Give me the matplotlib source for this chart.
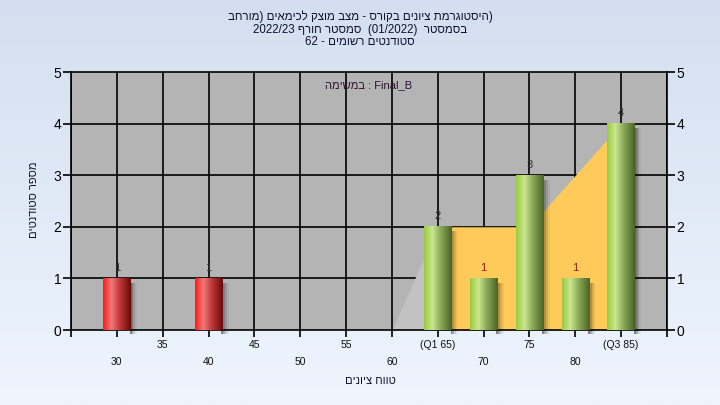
import re
import numpy as np
import matplotlib
matplotlib.use("Agg")
import matplotlib.pyplot as plt
from matplotlib.colors import LinearSegmentedColormap

plt.rcParams['font.family'] = ['Liberation Sans Narrow', 'Liberation Sans', 'DejaVu Sans']

# ---- data ----
grade_labels = ["30", "35", "40", "45", "50", "55", "60",
                "(Q1 65)", "70", "75", "80", "(Q3 85)"]
counts = [1, 0, 1, 0, 0, 0, 0, 2, 1, 3, 1, 4]
bar_group = ["low", "", "low", "", "", "", "", "ok", "ok", "ok", "ok", "ok"]
quartile_area = [0, 0, 0, 0, 0, 0, 0, 2, 2, 2, 3, 4]

title_lines = [
    "(היסטוגרמת ציונים בקורס - מצב מוצק לכימאים (מורחב",
    "בסמסטר  (01/2022)  סמסטר חורף 2022/23",
    "סטודנטים רשומים - 62",
]
task_label = "במשימה"
task_name = "Final_B"
y_title = "מספר סטודנטים"
x_title = "טווח ציונים"

MIRROR = {"(": ")", ")": "("}


def rtl(s):
    # very small bidi: rtl paragraph, ltr runs kept as they are
    runs = re.split(r'([A-Za-z0-9_/.]+)', s)
    out = []
    for r in runs:
        if r and re.fullmatch(r'[A-Za-z0-9_/.]+', r):
            out.append(r)
        else:
            out.append("".join(MIRROR.get(c, c) for c in r[::-1]))
    return "".join(out[::-1])


def heb_word(s):
    return s[::-1]


fig = plt.figure(figsize=(7.2, 4.05), dpi=100)

# background gradient
bg = fig.add_axes([0, 0, 1, 1], zorder=-10)
grad = np.linspace(0, 1, 256).reshape(-1, 1)
bg_cmap = LinearSegmentedColormap.from_list("bg", ["#d3dff0", "#eef5fd"])
bg.imshow(grad, aspect="auto", cmap=bg_cmap, extent=[0, 1, 0, 1])
bg.set_axis_off()

ax = fig.add_axes([71 / 720, 75 / 405, 596 / 720, 258 / 405])
ax.set_facecolor("#b4b4b4")

x = np.arange(len(counts))

# gridlines
for i in range(-1, 13):
    ax.axvline(i, color="black", lw=1.2, zorder=1)
for j in range(1, 5):
    ax.axhline(j, color="black", lw=1.2, zorder=1)

# quartile area
ax.fill_between(x[6:8], [quartile_area[6], quartile_area[7]], color="#c2c2c2", lw=0, zorder=2)
ax.fill_between(x[7:], quartile_area[7:], color="#fecb5a", lw=0, zorder=2)

red_cmap = LinearSegmentedColormap.from_list(
    "red", [(0, "#ff1a1a"), (0.3, "#f07a7a"), (0.6, "#c03838"), (1, "#6a0a0a")])
green_cmap = LinearSegmentedColormap.from_list(
    "green", [(0, "#98cc40"), (0.3, "#cbe690"), (0.6, "#8aa858"), (1, "#4a6426")])

w = 0.6
hgrad = np.linspace(0, 1, 64).reshape(1, -1)
for xi, c, g in zip(x, counts, bar_group):
    if c == 0:
        continue
    # shadow
    for k, a in enumerate([0.24, 0.17, 0.1, 0.05]):
        off = 0.04 + 0.04 * k
        ax.add_patch(plt.Rectangle((xi + w / 2 - 0.02, -0.07), off, c - 0.02,
                                   color="black", alpha=a, lw=0, zorder=3, clip_on=False))
    cmap = red_cmap if g == "low" else green_cmap
    ax.imshow(hgrad, aspect="auto", cmap=cmap,
              extent=[xi - w / 2, xi + w / 2, 0, c], zorder=4)
    lab_col = "#303030"
    if g == "ok" and c == 1:
        lab_col = "#8a2010"
    ax.text(xi, c + 0.2, str(c), ha="center", va="center", fontsize=8,
            color=lab_col, zorder=5)

ax.set_xlim(-1, 12)
ax.set_ylim(0, 5)

ax.set_xticks(range(-1, 13))
ax.set_xticklabels([])
ax.set_yticks(range(0, 6))
ax.tick_params(axis="x", direction="out", length=5, width=1.2, color="black")
ax.tick_params(axis="y", direction="out", length=6, width=1.2, color="black",
               labelsize=10, right=True, labelright=True, pad=1)
for sp in ax.spines.values():
    sp.set_linewidth(1.2)
    sp.set_color("black")

# staggered x labels
for i, lab in enumerate(grade_labels):
    yy = -0.124 if i % 2 == 0 else -0.058
    ax.text(i, yy, lab, transform=ax.get_xaxis_transform(), ha="center",
            va="center", fontsize=7.5, color="#101010")

ax.text(0.5, 0.95, heb_word(task_label) + " : " + task_name, transform=ax.transAxes,
        ha="center", va="center", fontsize=8, color="#301030")

fig.text(360 / 720, 1 - 17 / 405, rtl(title_lines[0]), ha="center", va="center",
         fontsize=8.3, color="#101030")
fig.text(360 / 720, 1 - 29.5 / 405, rtl(title_lines[1]), ha="center", va="center",
         fontsize=8.3, color="#101030")
fig.text(360 / 720, 1 - 42 / 405, rtl(title_lines[2]), ha="center", va="center",
         fontsize=8.3, color="#101030")

fig.text(370 / 720, 1 - 381 / 405, rtl(x_title), ha="center", va="center",
         fontsize=8, color="#101030")
fig.text(34 / 720, 1 - 200 / 405, rtl(y_title), ha="center", va="center",
         fontsize=8, color="#101030", rotation=90)

fig.savefig("out.png", dpi=100)
